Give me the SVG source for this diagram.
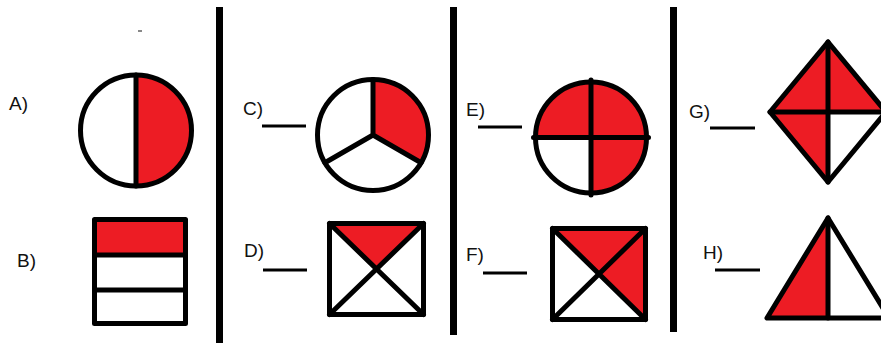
<svg xmlns="http://www.w3.org/2000/svg" width="881" height="343" viewBox="0 0 881 343">
<style>
.s{stroke:#000;stroke-width:5;stroke-linejoin:round;stroke-linecap:round}
.w{fill:#fff}
.r{fill:#ed1c24}
.n{fill:none}
.ul{stroke:#000;stroke-width:3}
.lb{font-family:"Liberation Sans",Arial,sans-serif;font-size:19px;fill:#111}
.bar{fill:#000}
</style>
<rect width="881" height="343" fill="#fff"/>
<g id="dividers">
<rect class="bar" x="216" y="7" width="7" height="336"/>
<rect class="bar" x="450" y="7" width="7" height="328"/>
<rect class="bar" x="670" y="7" width="7" height="325"/>
<rect x="138" y="30" width="4" height="2" fill="#888"/>
</g>
<g id="A">
<text class="lb" x="9" y="110">A)</text>
<circle class="w" cx="136" cy="130.5" r="55.5"/>
<path class="r" d="M136,75 A55.5,55.5 0 0 1 136,186 Z"/>
<circle class="s n" cx="136" cy="130.5" r="55.5"/>
<line class="s" x1="136" y1="75" x2="136" y2="186"/>
</g>
<g id="B">
<text class="lb" x="17" y="267">B)</text>
<rect class="r" x="94.5" y="219.5" width="91" height="35.5"/>
<rect class="s n" x="94.5" y="219.5" width="91" height="104" stroke-linejoin="miter"/>
<line class="s" x1="94.5" y1="255" x2="185.5" y2="255"/>
<line class="s" x1="94.5" y1="290" x2="185.5" y2="290"/>
</g>
<g id="C">
<text class="lb" x="243" y="115">C)</text>
<line class="ul" x1="262" y1="126" x2="306" y2="126"/>
<circle class="w" cx="373" cy="135" r="55.5"/>
<path class="r" d="M373,135 L373,79.5 A55.5,55.5 0 0 1 421.1,162.75 Z"/>
<circle class="s n" cx="373" cy="135" r="55.5"/>
<path class="s n" d="M373,79.5 L373,135 L421.1,162.75 M373,135 L324.9,162.75"/>
</g>
<g id="D">
<text class="lb" x="244" y="257">D)</text>
<line class="ul" x1="263" y1="270" x2="307" y2="270"/>
<rect class="w" x="329.5" y="223.5" width="94" height="91"/>
<polygon class="r" points="329.5,223.5 423.5,223.5 376.5,269"/>
<rect class="s n" x="329.5" y="223.5" width="94" height="91" stroke-linejoin="miter"/>
<path class="s n" d="M329.5,223.5 L423.5,314.5 M423.5,223.5 L329.5,314.5"/>
</g>
<g id="E">
<text class="lb" x="466" y="116">E)</text>
<line class="ul" x1="478" y1="127" x2="522" y2="127"/>
<circle class="r" cx="591" cy="137.5" r="55.5"/>
<path class="w" d="M591,137.5 L535.5,137.5 A55.5,55.5 0 0 0 591,193 Z"/>
<circle class="s n" cx="591" cy="137.5" r="55.5"/>
<path class="s n" d="M591,80 L591,195 M533.5,137.5 L648.5,137.5" stroke-linecap="butt"/>
</g>
<g id="F">
<text class="lb" x="466" y="261">F)</text>
<line class="ul" x1="483" y1="273" x2="527" y2="273"/>
<rect class="w" x="552.5" y="228.5" width="93" height="91"/>
<polygon class="r" points="552.5,228.5 645.5,228.5 645.5,319.5 599,274"/>
<rect class="s n" x="552.5" y="228.5" width="93" height="91" stroke-linejoin="miter"/>
<path class="s n" d="M552.5,228.5 L645.5,319.5 M645.5,228.5 L552.5,319.5"/>
</g>
<g id="G">
<text class="lb" x="689" y="118">G)</text>
<line class="ul" x1="710" y1="128" x2="755" y2="128"/>
<polygon class="r" points="828,42 770,112 828,182 886,112"/>
<polygon class="w" points="828,112 886,112 828,182"/>
<polygon class="s n" points="828,42 770,112 828,182 886,112"/>
<path class="s n" d="M828,42 L828,182 M770,112 L886,112"/>
</g>
<g id="H">
<text class="lb" x="703" y="259">H)</text>
<line class="ul" x1="715" y1="270" x2="760" y2="270"/>
<polygon class="w" points="828,218 767,318 889,318"/>
<polygon class="r" points="828,218 767,318 828,318"/>
<polygon class="s n" points="828,218 767,318 889,318"/>
<line class="s" x1="828" y1="218" x2="828" y2="318"/>
</g>
</svg>
